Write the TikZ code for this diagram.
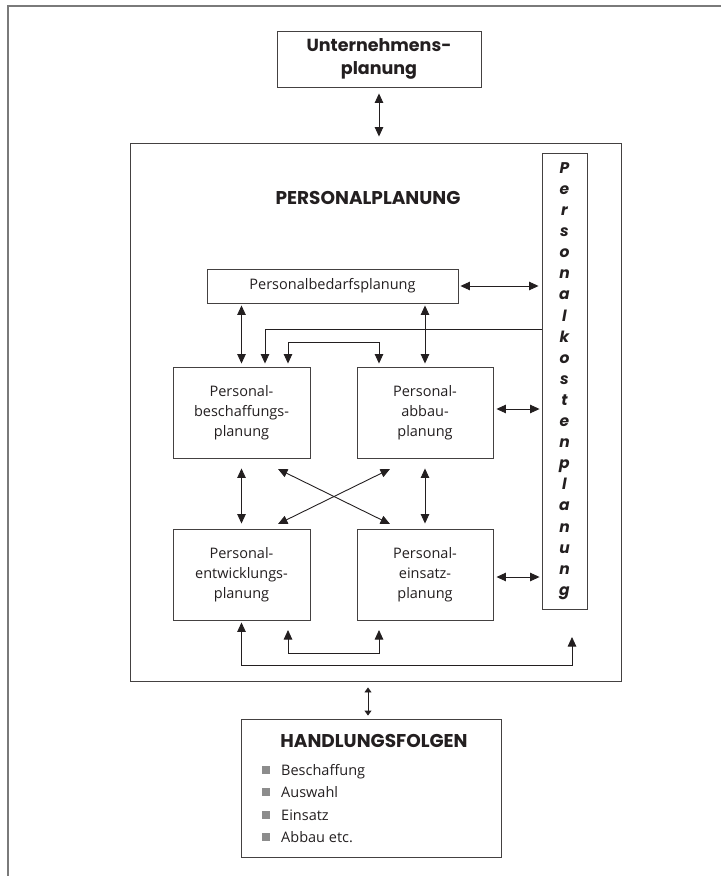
\documentclass[tikz,border=0pt]{standalone}
\usepackage{fontspec}
\setmainfont{Open Sans}
\newfontfamily\headfont{Poppins}
\usetikzlibrary{arrows.meta,calc}
\definecolor{ink}{HTML}{231F20}
\definecolor{framegray}{HTML}{7A7A7A}
\definecolor{bul}{HTML}{8C8C8C}
\begin{document}
\begin{tikzpicture}[x=1pt,y=-1pt,
  box/.style={draw=ink!85, line width=0.9pt, rectangle, inner sep=0pt, text=ink, align=center},
  dbl/.style={draw=ink, line width=0.9pt, {Triangle[length=9.5pt,width=8.5pt]}-{Triangle[length=9.5pt,width=8.5pt]}},
  sgl/.style={draw=ink, line width=0.9pt, -{Triangle[length=9.5pt,width=8.5pt]}},
  body/.style={font=\fontsize{14.5}{20}\selectfont, text=ink},
  head/.style={font=\headfont\bfseries\fontsize{18.5}{22}\selectfont, text=ink, align=center}
]
\useasboundingbox (0,0) rectangle (721,876);
\draw[framegray, line width=2pt] (8,876) -- (8,6) -- (721,6);

\node[box, font=\headfont\bfseries\fontsize{17.5}{22.5}\selectfont, minimum width=204pt, minimum height=56pt] (unt) at (379,59) {Unternehmens-\\planung};
\node[box, minimum width=491pt, minimum height=538pt] (big) at (375.5,412) {};
\node[head] (title) at (368,198) {PERSONALPLANUNG};
\node[box, minimum width=45pt, minimum height=456pt,
      font=\headfont\bfseries\itshape\fontsize{15.5}{21.1}\selectfont] (pk) at (564.5,381)
      {P\\e\\r\\s\\o\\n\\a\\l\\k\\o\\s\\t\\e\\n\\p\\l\\a\\n\\u\\n\\g};
\node[box, body, minimum width=251pt, minimum height=34pt] (pbp) at (332.5,286) {Personalbedarfsplanung};
\node[box, body, minimum width=137pt, minimum height=91pt] (pb) at (241.5,412.5) {Personal-\\beschaffungs-\\planung};
\node[box, body, minimum width=136pt, minimum height=91pt] (pa) at (425,412.5) {Personal-\\abbau-\\planung};
\node[box, body, minimum width=137pt, minimum height=91pt] (pe) at (241.5,574.5) {Personal-\\entwicklungs-\\planung};
\node[box, body, minimum width=136pt, minimum height=91pt] (pei) at (425,574.5) {Personal-\\einsatz-\\planung};
\node[box, minimum width=260pt, minimum height=138pt] (hf) at (371,788) {};
\node[head] (hft) at (374,741) {HANDLUNGSFOLGEN};
\foreach \t/\y [count=\i] in {Beschaffung/770, Auswahl/792, Einsatz/815, Abbau etc./837} {
  \node[fill=bul, minimum size=8pt, inner sep=0pt] (bu\i) at (266,\y) {};
  \node[body, anchor=base west, inner sep=0pt] (it\i) at (281,\y+5) {\t};
}

% connectors
\draw[dbl, shorten <=6pt, shorten >=6pt] (unt.south) -- (unt.south |- big.north);
\draw[dbl, shorten <=2pt, shorten >=3pt] (pbp.east) -- (pbp.east -| pk.west);
\draw[dbl, shorten <=2pt, shorten >=3pt] (pb.north |- pbp.south) -- (pb.north);
\draw[dbl, shorten <=2pt, shorten >=3pt] (pa.north |- pbp.south) -- (pa.north);
\coordinate (k1) at (265,329);
\draw[sgl, shorten >=3pt] (pk.west |- k1) -- (k1) -- (k1 |- pb.north);
\coordinate (b1) at (288,342);
\coordinate (b2) at (379,342);
\draw[dbl, shorten <=3pt, shorten >=3pt] (b1 |- pb.north) -- (b1) -- (b2) -- (b2 |- pa.north);
\draw[dbl, shorten <=3pt, shorten >=2pt] ([yshift=3.5pt]pa.east) -- ([yshift=3.5pt]pa.east -| pk.west);
\draw[dbl, shorten <=10pt, shorten >=5pt] (pb.south) -- (pe.north);
\draw[dbl, shorten <=10pt, shorten >=5pt] (pa.south) -- (pei.north);
\coordinate (c1) at (278,469);
\coordinate (c2) at (390,524);
\coordinate (c3) at (390,469);
\coordinate (c4) at (278,524);
\draw[dbl] (c1) -- (c2);
\draw[dbl] (c3) -- (c4);
\draw[dbl, shorten <=3pt, shorten >=2pt] ([yshift=-2.5pt]pei.east) -- ([yshift=-2.5pt]pei.east -| pk.west);
\coordinate (o1) at (241.5,665);
\coordinate (o2) at (572,665);
\coordinate (o3) at (572,637);
\draw[dbl, shorten <=2pt] (pe.south) -- (o1) -- (o2) -- (o3);
\coordinate (i1) at (288,630);
\coordinate (i2) at (288,653);
\coordinate (i3) at (379,653);
\coordinate (i4) at (379,630);
\draw[dbl] (i1) -- (i2) -- (i3) -- (i4);
\draw[draw=ink, line width=0.9pt, {Triangle[length=5pt,width=7pt]}-{Triangle[length=5pt,width=7pt]}, shorten <=6pt, shorten >=3pt]
  ([xshift=-3pt]hf.north |- big.south) -- ([xshift=-3pt]hf.north);
\end{tikzpicture}
\end{document}
